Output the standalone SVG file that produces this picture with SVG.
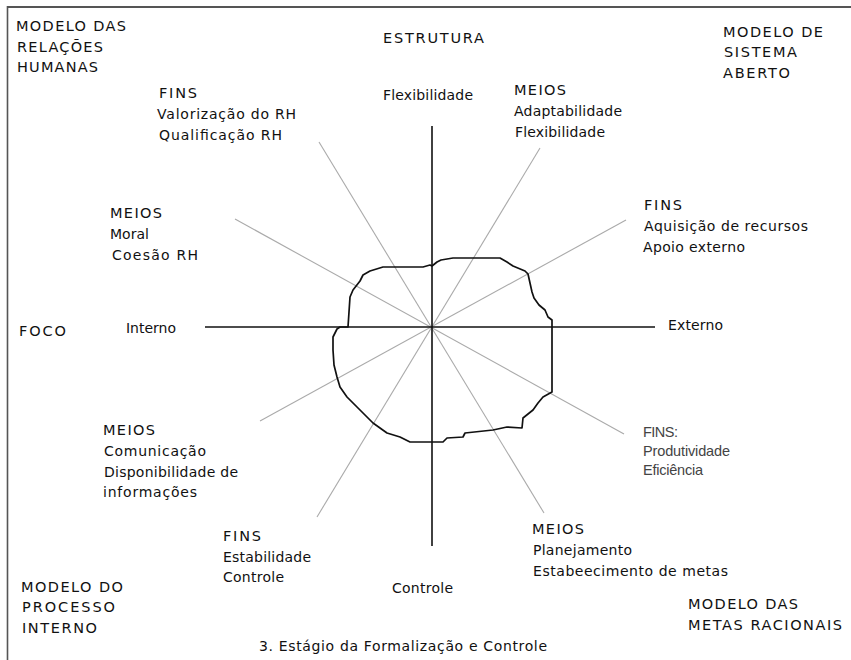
<svg xmlns="http://www.w3.org/2000/svg" width="851" height="660" viewBox="0 0 851 660">
<style>
text{font-family:"DejaVu Sans","Liberation Sans",sans-serif;font-size:14px;fill:#111}
.cap{font-size:14.5px}
.sm{font-family:"Liberation Sans",Arial,sans-serif;font-size:14.5px;fill:#444}
.axis{stroke:#111;stroke-width:1.6;fill:none}
.spoke{stroke:#aaa;stroke-width:1.1;fill:none}
.frame{stroke:#555;fill:none}
.blob{stroke:#111;stroke-width:1.7;fill:none;stroke-linejoin:round}
</style>
<rect width="851" height="660" fill="#fff"/>
<g id="frame">
<line class="frame" x1="7" y1="7" x2="851" y2="7" stroke-width="2"/>
<line class="frame" x1="7.5" y1="6" x2="7.5" y2="660" stroke-width="1.6"/>
</g>
<g id="connectors">
<line class="spoke" x1="319" y1="142" x2="544" y2="513"/>
<line class="spoke" x1="235" y1="219" x2="624" y2="434"/>
<line class="spoke" x1="540" y1="148" x2="317" y2="517"/>
<line class="spoke" x1="626" y1="220" x2="260" y2="421"/>
<line class="axis" x1="432" y1="126" x2="432" y2="546"/>
<line class="axis" x1="205" y1="327" x2="655" y2="327"/>
</g>
<g id="profile">
<path class="blob" d="M432,266 L437,262 L441,260 L453,258 L500,258 L507,262 L513,266 L525,271 L528,274 L530,283 L532,292 L534,298 L539,305 L545,310 L548,317 L552,320 L552,392 L543,397 L538,403 L533,410 L523,418 L522,428 L507,427 L493,430 L465,433 L463,437 L447,438 L443,442 L410,442 L400,437 L387,433 L373,423 L357,407 L347,397 L340,387 L337,377 L334,365 L333,350 L333,337 L337,329 L340,327 L348,327 L350,297 L353,290 L360,281 L363,275 L370,271 L383,267 L423,267 L430,265 Z"/>
</g>
<g id="modelo-relacoes-humanas">
<text class="cap" x="16" y="31" textLength="110" lengthAdjust="spacing">MODELO DAS</text>
<text class="cap" x="17" y="52" textLength="86" lengthAdjust="spacing">RELAÇÕES</text>
<text class="cap" x="17" y="72" textLength="81" lengthAdjust="spacing">HUMANAS</text>
</g>
<g id="estrutura">
<text class="cap" x="383" y="43" textLength="101" lengthAdjust="spacing">ESTRUTURA</text>
<text x="383" y="100" textLength="90" lengthAdjust="spacing">Flexibilidade</text>
</g>
<g id="modelo-sistema-aberto">
<text class="cap" x="723" y="37" textLength="100" lengthAdjust="spacing">MODELO DE</text>
<text class="cap" x="724" y="57" textLength="73" lengthAdjust="spacing">SISTEMA</text>
<text class="cap" x="723" y="78" textLength="67" lengthAdjust="spacing">ABERTO</text>
</g>
<g id="fins-rh">
<text class="cap" x="159" y="98" textLength="38" lengthAdjust="spacing">FINS</text>
<text x="157" y="119" textLength="139" lengthAdjust="spacing">Valorização do RH</text>
<text x="159" y="140" textLength="123" lengthAdjust="spacing">Qualificação RH</text>
</g>
<g id="meios-adaptabilidade">
<text class="cap" x="514" y="95" textLength="52" lengthAdjust="spacing">MEIOS</text>
<text x="514" y="116" textLength="108" lengthAdjust="spacing">Adaptabilidade</text>
<text x="515" y="137" textLength="90" lengthAdjust="spacing">Flexibilidade</text>
</g>
<g id="meios-moral">
<text class="cap" x="110" y="218" textLength="52" lengthAdjust="spacing">MEIOS</text>
<text x="110" y="239" textLength="39" lengthAdjust="spacing">Moral</text>
<text x="112" y="260" textLength="86" lengthAdjust="spacing">Coesão RH</text>
</g>
<g id="fins-recursos">
<text class="cap" x="644" y="210" textLength="38" lengthAdjust="spacing">FINS</text>
<text x="644" y="231" textLength="164" lengthAdjust="spacing">Aquisição de recursos</text>
<text x="643" y="252" textLength="102" lengthAdjust="spacing">Apoio externo</text>
</g>
<g id="foco">
<text class="cap" x="19" y="336" textLength="47" lengthAdjust="spacing">FOCO</text>
<text x="126" y="333" textLength="50" lengthAdjust="spacing">Interno</text>
<text x="668" y="330" textLength="55" lengthAdjust="spacing">Externo</text>
</g>
<g id="meios-comunicacao">
<text class="cap" x="103" y="435" textLength="52" lengthAdjust="spacing">MEIOS</text>
<text x="104" y="456" textLength="102" lengthAdjust="spacing">Comunicação</text>
<text x="104" y="477" textLength="134" lengthAdjust="spacing">Disponibilidade de</text>
<text x="103" y="497" textLength="94" lengthAdjust="spacing">informações</text>
</g>
<g id="fins-produtividade">
<text class="sm" x="643" y="437" textLength="35" lengthAdjust="spacing">FINS:</text>
<text class="sm" x="643" y="456" textLength="87" lengthAdjust="spacing">Produtividade</text>
<text class="sm" x="643" y="475" textLength="60" lengthAdjust="spacing">Eficiência</text>
</g>
<g id="meios-planejamento">
<text class="cap" x="532" y="534" textLength="52" lengthAdjust="spacing">MEIOS</text>
<text x="533" y="555" textLength="99" lengthAdjust="spacing">Planejamento</text>
<text x="533" y="576" textLength="195" lengthAdjust="spacing">Estabeecimento de metas</text>
</g>
<g id="fins-estabilidade">
<text class="cap" x="223" y="541" textLength="38" lengthAdjust="spacing">FINS</text>
<text x="223" y="562" textLength="88" lengthAdjust="spacing">Estabilidade</text>
<text x="223" y="582" textLength="61" lengthAdjust="spacing">Controle</text>
</g>
<g id="controle">
<text x="392" y="593" textLength="61" lengthAdjust="spacing">Controle</text>
</g>
<g id="modelo-processo-interno">
<text class="cap" x="21" y="592" textLength="102" lengthAdjust="spacing">MODELO DO</text>
<text class="cap" x="22" y="612" textLength="93" lengthAdjust="spacing">PROCESSO</text>
<text class="cap" x="22" y="633" textLength="75" lengthAdjust="spacing">INTERNO</text>
</g>
<g id="modelo-metas-racionais">
<text class="cap" x="688" y="609" textLength="110" lengthAdjust="spacing">MODELO DAS</text>
<text class="cap" x="688" y="630" textLength="154" lengthAdjust="spacing">METAS RACIONAIS</text>
</g>
<g id="caption">
<text x="259" y="651" textLength="288" lengthAdjust="spacing">3. Estágio da Formalização e Controle</text>
</g>
</svg>
